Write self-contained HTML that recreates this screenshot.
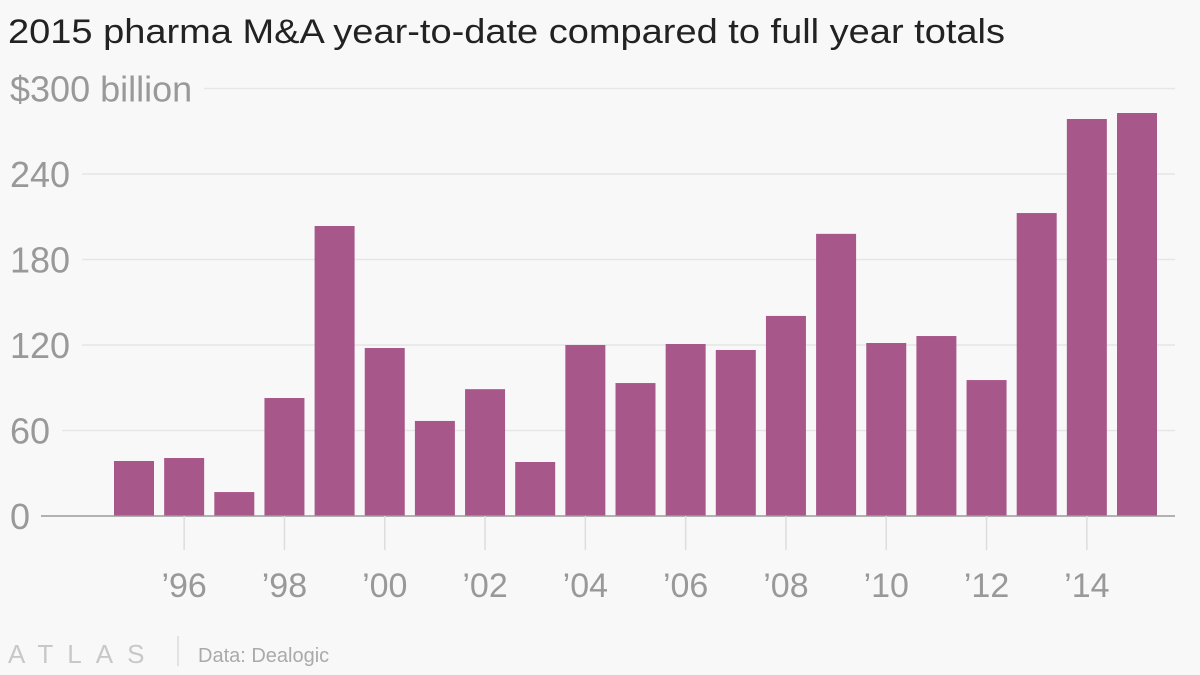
<!DOCTYPE html>
<html><head><meta charset="utf-8"><style>
body{margin:0;background:#f8f8f8;font-family:"Liberation Sans",sans-serif}
svg{display:block}
</style></head><body>
<svg width="1200" height="675">
<rect width="1200" height="675" fill="#f8f8f8"/>
<text x="8" y="43" font-size="34" fill="#222" textLength="997" lengthAdjust="spacingAndGlyphs">2015 pharma M&amp;A year-to-date compared to full year totals</text>
<g id="grid"></g><g id="bars"></g><g id="xaxis"></g>
<g>
<text x="8" y="663" font-size="26" fill="#c8c8c8" letter-spacing="14">ATLAS</text>
<line x1="178" y1="636" x2="178" y2="666" stroke="#ccc"/>
<text x="198" y="662" font-size="20" fill="#aaa">Data: Dealogic</text>
</g>
</svg>
<script>
const years=[1995,1996,1997,1998,1999,2000,2001,2002,2003,2004,2005,2006,2007,2008,2009,2010,2011,2012,2013,2014,2015];
const values=[38.6,40.7,16.8,82.8,203.5,117.9,66.7,89,37.9,120,93.3,120.7,116.5,140.4,198,121.4,126.3,95.4,212.6,278.6,282.8];
const yTicks=[0,60,120,180,240,300];
const yTickLabels=["0","60","120","180","240","$300 billion"];
const xLabelYears=[1996,1998,2000,2002,2004,2006,2008,2010,2012,2014];
const xLabels=["’96","’98","’00","’02","’04","’06","’08","’10","’12","’14"];
const NS="http://www.w3.org/2000/svg";
const y=v=>516-v*(427.5/300);
const x=yr=>134+(yr-1995)*50.15;
function mk(t,a,p){const e=document.createElementNS(NS,t);for(const k in a)e.setAttribute(k,a[k]);p.appendChild(e);return e;}
const grid=document.getElementById('grid'),bars=document.getElementById('bars'),xa=document.getElementById('xaxis');
yTicks.forEach((v,i)=>{
 const t=mk('text',{x:10,y:y(v)+13,'font-size':36,fill:'#999'},grid);
 t.textContent=yTickLabels[i];
 
 
 const w=t.getComputedTextLength();
 if(v!==0){const l=mk('line',{x1:10+w+12,x2:1175,y1:y(v),y2:y(v),stroke:'#e6e6e6','stroke-width':1.5},grid);
 
 }
});
years.forEach((yr,i)=>{
 const r=mk('rect',{x:x(yr)-20,y:y(values[i]),width:40,height:516-y(values[i]),fill:'#a8578a'},bars);
 
 
});
const ax=mk('line',{x1:41,x2:1175,y1:516,y2:516,stroke:'#999','stroke-width':1.5},xa);


xLabelYears.forEach((yr,i)=>{
 const tk=mk('line',{x1:x(yr),x2:x(yr),y1:516,y2:550,stroke:'#ddd','stroke-width':1.5},xa);
 
 
 const t=mk('text',{x:x(yr),y:597,'font-size':34,fill:'#999','text-anchor':'middle'},xa);
 t.textContent=xLabels[i];
 
 
});
</script>
</body></html>
